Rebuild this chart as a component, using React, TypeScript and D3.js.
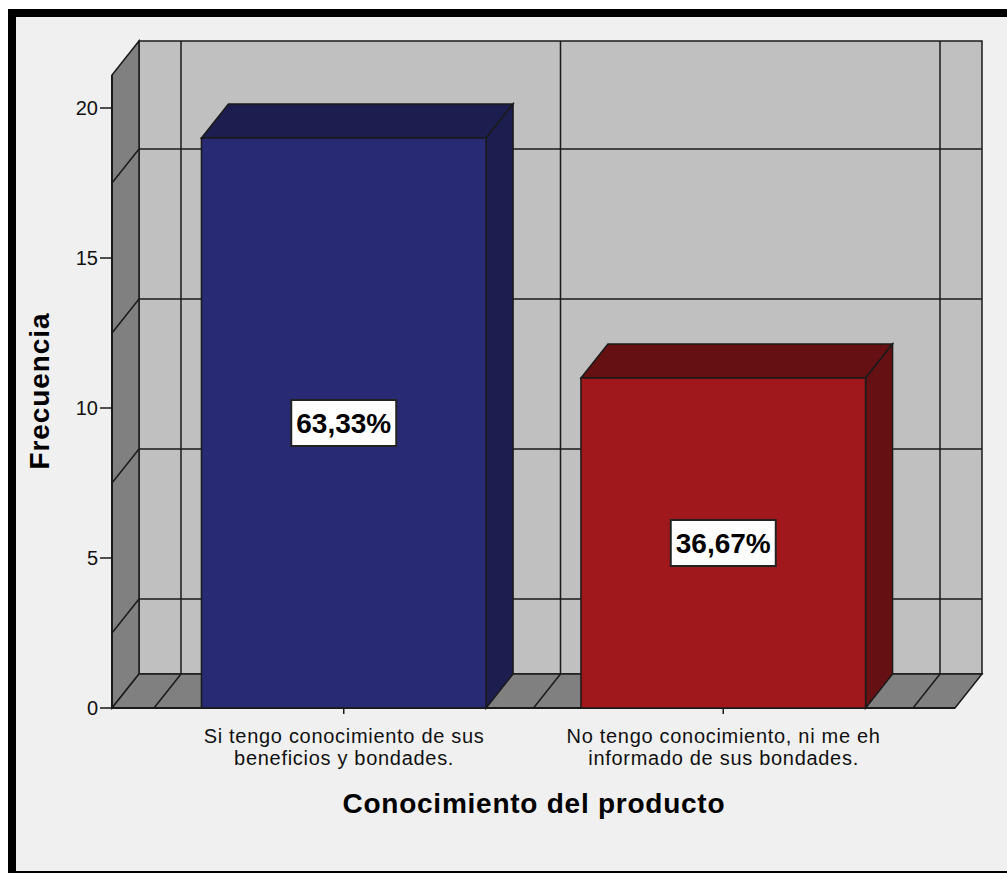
import React from "react";
import * as d3 from "d3";

const categories: string[][] = [
  ["Si tengo conocimiento de sus", "beneficios y bondades."],
  ["No tengo conocimiento, ni me eh", "informado de sus bondades."],
];
const frequencies: number[] = [19, 11];
const yTicks: number[] = [0, 5, 10, 15, 20];
const wallGrid: number[] = [2.5, 7.5, 12.5, 17.5];
const frontColors = ["#282a73", "#a0181b"];
const darkColors = ["#1d1e50", "#651013"];

const W = 1007;
const H = 873;
const DX = 27;
const DY = 34;

export default function App() {
  const total = d3.sum(frequencies);
  const keys = categories.map((_, i) => String(i));
  const x = d3
    .scaleBand<string>()
    .domain(keys)
    .range([154, 913])
    .paddingInner(0.25)
    .paddingOuter(0.125);
  const y = d3.scaleLinear().domain([0, 21.1]).range([708, 75]);

  const wallL = 112;
  const wallR = 955;
  const y0 = y(0);
  const yTop = y(21.1);
  const fmt = d3.format(".2f");
  const line = "#1a1a1a";

  const pts = (p: number[][]) => p.map((q) => q.join(",")).join(" ");

  const step = x.step();
  const bounds = [x.range()[0], x.range()[0] + step, x.range()[0] + 2 * step];

  return (
    <div style={{ position: "absolute", left: 0, top: 0 }}>
      <svg width={W} height={H} style={{ display: "block", background: "#ffffff" }}>
        <rect x={12} y={13} width={1010} height={862} fill="#f0f0f0" stroke="#000" strokeWidth={8} />

        <rect x={wallL + DX} y={yTop - DY} width={wallR - wallL} height={y0 - yTop} fill="#c0c0c0" stroke={line} strokeWidth={1.5} />
        <polygon
          points={pts([[wallL, y0], [wallL, yTop], [wallL + DX, yTop - DY], [wallL + DX, y0 - DY]])}
          fill="#808080"
          stroke={line}
          strokeWidth={1.5}
        />
        <polygon
          points={pts([[wallL, y0], [wallR, y0], [wallR + DX, y0 - DY], [wallL + DX, y0 - DY]])}
          fill="#808080"
          stroke={line}
          strokeWidth={1.5}
        />
        {wallGrid.map((v) => (
          <g key={"g" + v}>
            <line x1={wallL} y1={y(v)} x2={wallL + DX} y2={y(v) - DY} stroke={line} strokeWidth={1.5} />
            <line x1={wallL + DX} y1={y(v) - DY} x2={wallR + DX} y2={y(v) - DY} stroke={line} strokeWidth={1.5} />
          </g>
        ))}
        {bounds.map((bx, i) => (
          <g key={"b" + i}>
            <line x1={bx + DX} y1={yTop - DY} x2={bx + DX} y2={y0 - DY} stroke={line} strokeWidth={1.5} />
            <line x1={bx} y1={y0} x2={bx + DX} y2={y0 - DY} stroke={line} strokeWidth={1.5} />
          </g>
        ))}
        <line x1={wallL} y1={y0} x2={wallR} y2={y0} stroke={line} strokeWidth={2} />

        {frequencies.map((v, i) => {
          const bx = x(keys[i]) as number;
          const bw = x.bandwidth();
          const by = y(v);
          return (
            <g key={"bar" + i}>
              <polygon
                points={pts([[bx, by], [bx + bw, by], [bx + bw + DX, by - DY], [bx + DX, by - DY]])}
                fill={darkColors[i]}
                stroke={line}
                strokeWidth={1.5}
              />
              <polygon
                points={pts([[bx + bw, by], [bx + bw + DX, by - DY], [bx + bw + DX, y0 - DY], [bx + bw, y0]])}
                fill={darkColors[i]}
                stroke={line}
                strokeWidth={1.5}
              />
              <rect x={bx} y={by} width={bw} height={y0 - by} fill={frontColors[i]} stroke={line} strokeWidth={1.5} />
            </g>
          );
        })}

        {frequencies.map((v, i) => {
          const cx = (x(keys[i]) as number) + x.bandwidth() / 2;
          const cy = (y(v) + y0) / 2;
          const label = fmt((v / total) * 100).replace(".", ",") + "%";
          return (
            <g key={"pl" + i}>
              <rect x={cx - 52.5} y={cy - 23} width={105} height={46} fill="#ffffff" stroke="#222" strokeWidth={2} />
              <text
                x={cx}
                y={cy + 10}
                textAnchor="middle"
                fontFamily="Liberation Sans, Arial, sans-serif"
                fontWeight="bold"
                fontSize={28}
                fill="#000"
              >
                {label}
              </text>
            </g>
          );
        })}

        <line x1={wallL} y1={yTop} x2={wallL} y2={y0} stroke={line} strokeWidth={2} />
        {yTicks.map((t) => (
          <g key={"t" + t}>
            <line x1={100} y1={y(t)} x2={wallL} y2={y(t)} stroke={line} strokeWidth={1.5} />
            <text
              x={98}
              y={y(t) + 7}
              textAnchor="end"
              fontFamily="Liberation Sans, Arial, sans-serif"
              fontSize={20}
              fill="#111"
            >
              {t}
            </text>
          </g>
        ))}

        {categories.map((lines, i) => {
          const cx = (x(keys[i]) as number) + x.bandwidth() / 2;
          return (
            <g key={"c" + i}>
              <line x1={cx} y1={y0} x2={cx} y2={y0 + 6} stroke={line} strokeWidth={1.5} />
              {lines.map((ln, j) => (
                <text
                  key={j}
                  x={cx + 0.35}
                  y={743 + j * 22}
                  textAnchor="middle"
                  fontFamily="Liberation Sans, Arial, sans-serif"
                  fontSize={20}
                  letterSpacing={0.7}
                  fill="#111"
                >
                  {ln}
                </text>
              ))}
            </g>
          );
        })}

        <text
          x={(x.range()[0] + x.range()[1]) / 2 + 0.4}
          y={813}
          textAnchor="middle"
          fontFamily="Liberation Sans, Arial, sans-serif"
          fontWeight="bold"
          fontSize={28}
          letterSpacing={0.75}
          fill="#000"
        >
          Conocimiento del producto
        </text>
        <text
          transform={`translate(49, ${(y0 + yTop) / 2 - 0.45}) rotate(-90)`}
          textAnchor="middle"
          fontFamily="Liberation Sans, Arial, sans-serif"
          fontWeight="bold"
          fontSize={28}
          letterSpacing={0.9}
          fill="#000"
        >
          Frecuencia
        </text>
      </svg>
    </div>
  );
}
